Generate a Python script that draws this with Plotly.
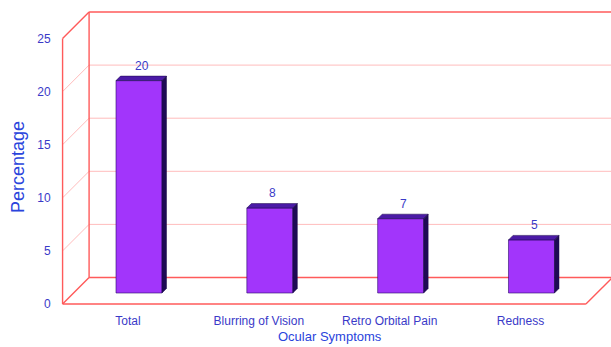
import plotly.graph_objects as go

# ---- data ----
categories = ["Total", "Blurring of Vision", "Retro Orbital Pain", "Redness"]
values = [20, 8, 7, 5]
y_ticks = [0, 5, 10, 15, 20, 25]
x_title = "Ocular Symptoms"
y_title = "Percentage"

# ---- geometry (pixels) ----
W, H = 611, 347
KX = 130.83      # px per category
KY = 10.62       # px per unit
BAR_CX0 = 139    # px of first bar centre (bar plane)
BAR_Y0 = 293     # px of zero (bar plane)
FRONT = 11       # px offset bar plane -> front plane
BACK = 15.5      # px offset bar plane -> back plane
DEPTH = 4.5      # bar depth px
BAR_W = 46 / KX

idx = list(range(len(categories)))

x_rng = [-BAR_CX0 / KX, (W - BAR_CX0) / KX]
y_rng = [-(H - BAR_Y0) / KY, BAR_Y0 / KY]
fx0 = BAR_CX0 - FRONT
fy0 = BAR_Y0 + FRONT
x2_rng = [-fx0 / KX, (W - fx0) / KX]
y2_rng = [-(H - fy0) / KY, fy0 / KY]

TXT = "#3a3ac8"
TITLE = "#2a44dc"
RED = "#ff5a5a"
PINK = "#ffbcbc"
FRONT_FACE = "#a235fb"
TOP_FACE = "#4b1aa6"
SIDE_FACE = "#1e0a55"

fig = go.Figure()
fig.add_trace(go.Bar(
    x=idx, y=values, width=BAR_W,
    marker=dict(color=FRONT_FACE, line=dict(color="#2a0a6a", width=0.6)),
    hoverinfo="skip", showlegend=False, xaxis="x", yaxis="y",
))
# invisible trace carrying the front-plane axes
fig.add_trace(go.Scatter(
    x=idx, y=values, mode="markers", marker=dict(opacity=0),
    hoverinfo="skip", showlegend=False, xaxis="x2", yaxis="y2",
))

shapes = []
# 3D frame in front-plane coordinates
bx = (FRONT + BACK) / KX
by = (FRONT + BACK) / KY
xl, xr = -0.5, len(categories) - 0.5
ytop = y_ticks[-1]

def line(x0, y0, x1, y1, color, width):
    shapes.append(dict(type="line", xref="x2", yref="y2", x0=x0, y0=y0, x1=x1, y1=y1,
                       line=dict(color=color, width=width), layer="below"))

for t in y_ticks:
    strong = t in (y_ticks[0], y_ticks[-1])
    # side diagonals
    line(xl, t, xl + bx, t + by, RED if strong else PINK, 1.4 if strong else 1)
    # back wall gridlines
    line(xl + bx, t + by, xr + bx, t + by, RED if strong else PINK, 1.4 if strong else 1)
line(xl, 0, xl, ytop, RED, 1.4)
line(xl, 0, xr, 0, RED, 1.4)
line(xl + bx, by, xl + bx, ytop + by, RED, 1.4)
line(xr, 0, xr + bx, by, RED, 1.4)
line(xr + bx, by, xr + bx, ytop + by, PINK, 1)

# 3D bar faces in bar-plane coordinates
ddx = DEPTH / KX
ddy = DEPTH / KY
hw = BAR_W / 2
for i, v in zip(idx, values):
    top = (f"M {i-hw},{v} L {i-hw+ddx},{v+ddy} L {i+hw+ddx},{v+ddy} "
           f"L {i+hw},{v} Z")
    side = (f"M {i+hw},0 L {i+hw+ddx},{ddy} L {i+hw+ddx},{v+ddy} "
            f"L {i+hw},{v} Z")
    shapes.append(dict(type="path", xref="x", yref="y", path=top,
                       fillcolor=TOP_FACE, line=dict(color="#1a0848", width=0.5)))
    shapes.append(dict(type="path", xref="x", yref="y", path=side,
                       fillcolor=SIDE_FACE, line=dict(color="#1a0848", width=0.5)))

annotations = []
for i, v in zip(idx, values):
    annotations.append(dict(x=i, y=v, xref="x", yref="y", text=str(v), showarrow=False,
                            yanchor="middle", xanchor="center", yshift=15, xshift=3,
                            font=dict(family="Liberation Sans, Arial", size=12, color=TXT)))
annotations.append(dict(x=18 / W, y=1 - 167 / H, xref="paper", yref="paper", text=y_title,
                        showarrow=False, textangle=-90, xanchor="center", yanchor="middle",
                        font=dict(family="Liberation Sans, Arial", size=18, color=TITLE)))
annotations.append(dict(x=330 / W, y=1 - 346 / H, xref="paper", yref="paper", text=x_title,
                        showarrow=False, xanchor="center", yanchor="bottom",
                        font=dict(family="Liberation Sans, Arial", size=13, color=TITLE)))

fig.update_layout(
    width=W, height=H,
    margin=dict(l=0, r=0, t=0, b=0),
    paper_bgcolor="white", plot_bgcolor="white",
    showlegend=False,
    xaxis=dict(range=x_rng, visible=False, fixedrange=True),
    yaxis=dict(range=y_rng, visible=False, fixedrange=True),
    xaxis2=dict(range=x2_rng, overlaying="x", anchor="free", position=(H - fy0) / H,
                side="bottom", tickmode="array", tickvals=idx, ticktext=categories,
                showgrid=False, zeroline=False, showline=False, ticks="",
                ticklabelstandoff=8,
                tickfont=dict(family="Liberation Sans, Arial", size=12, color=TXT)),
    yaxis2=dict(range=y2_rng, overlaying="y", anchor="free", position=(fx0 - 65.4) / W,
                side="left", tickmode="array", tickvals=y_ticks,
                showgrid=False, zeroline=False, showline=False, ticks="",
                ticklabelstandoff=12,
                tickfont=dict(family="Liberation Sans, Arial", size=12, color=TXT)),
    shapes=shapes,
    annotations=annotations,
)

fig.write_html("out.html")
